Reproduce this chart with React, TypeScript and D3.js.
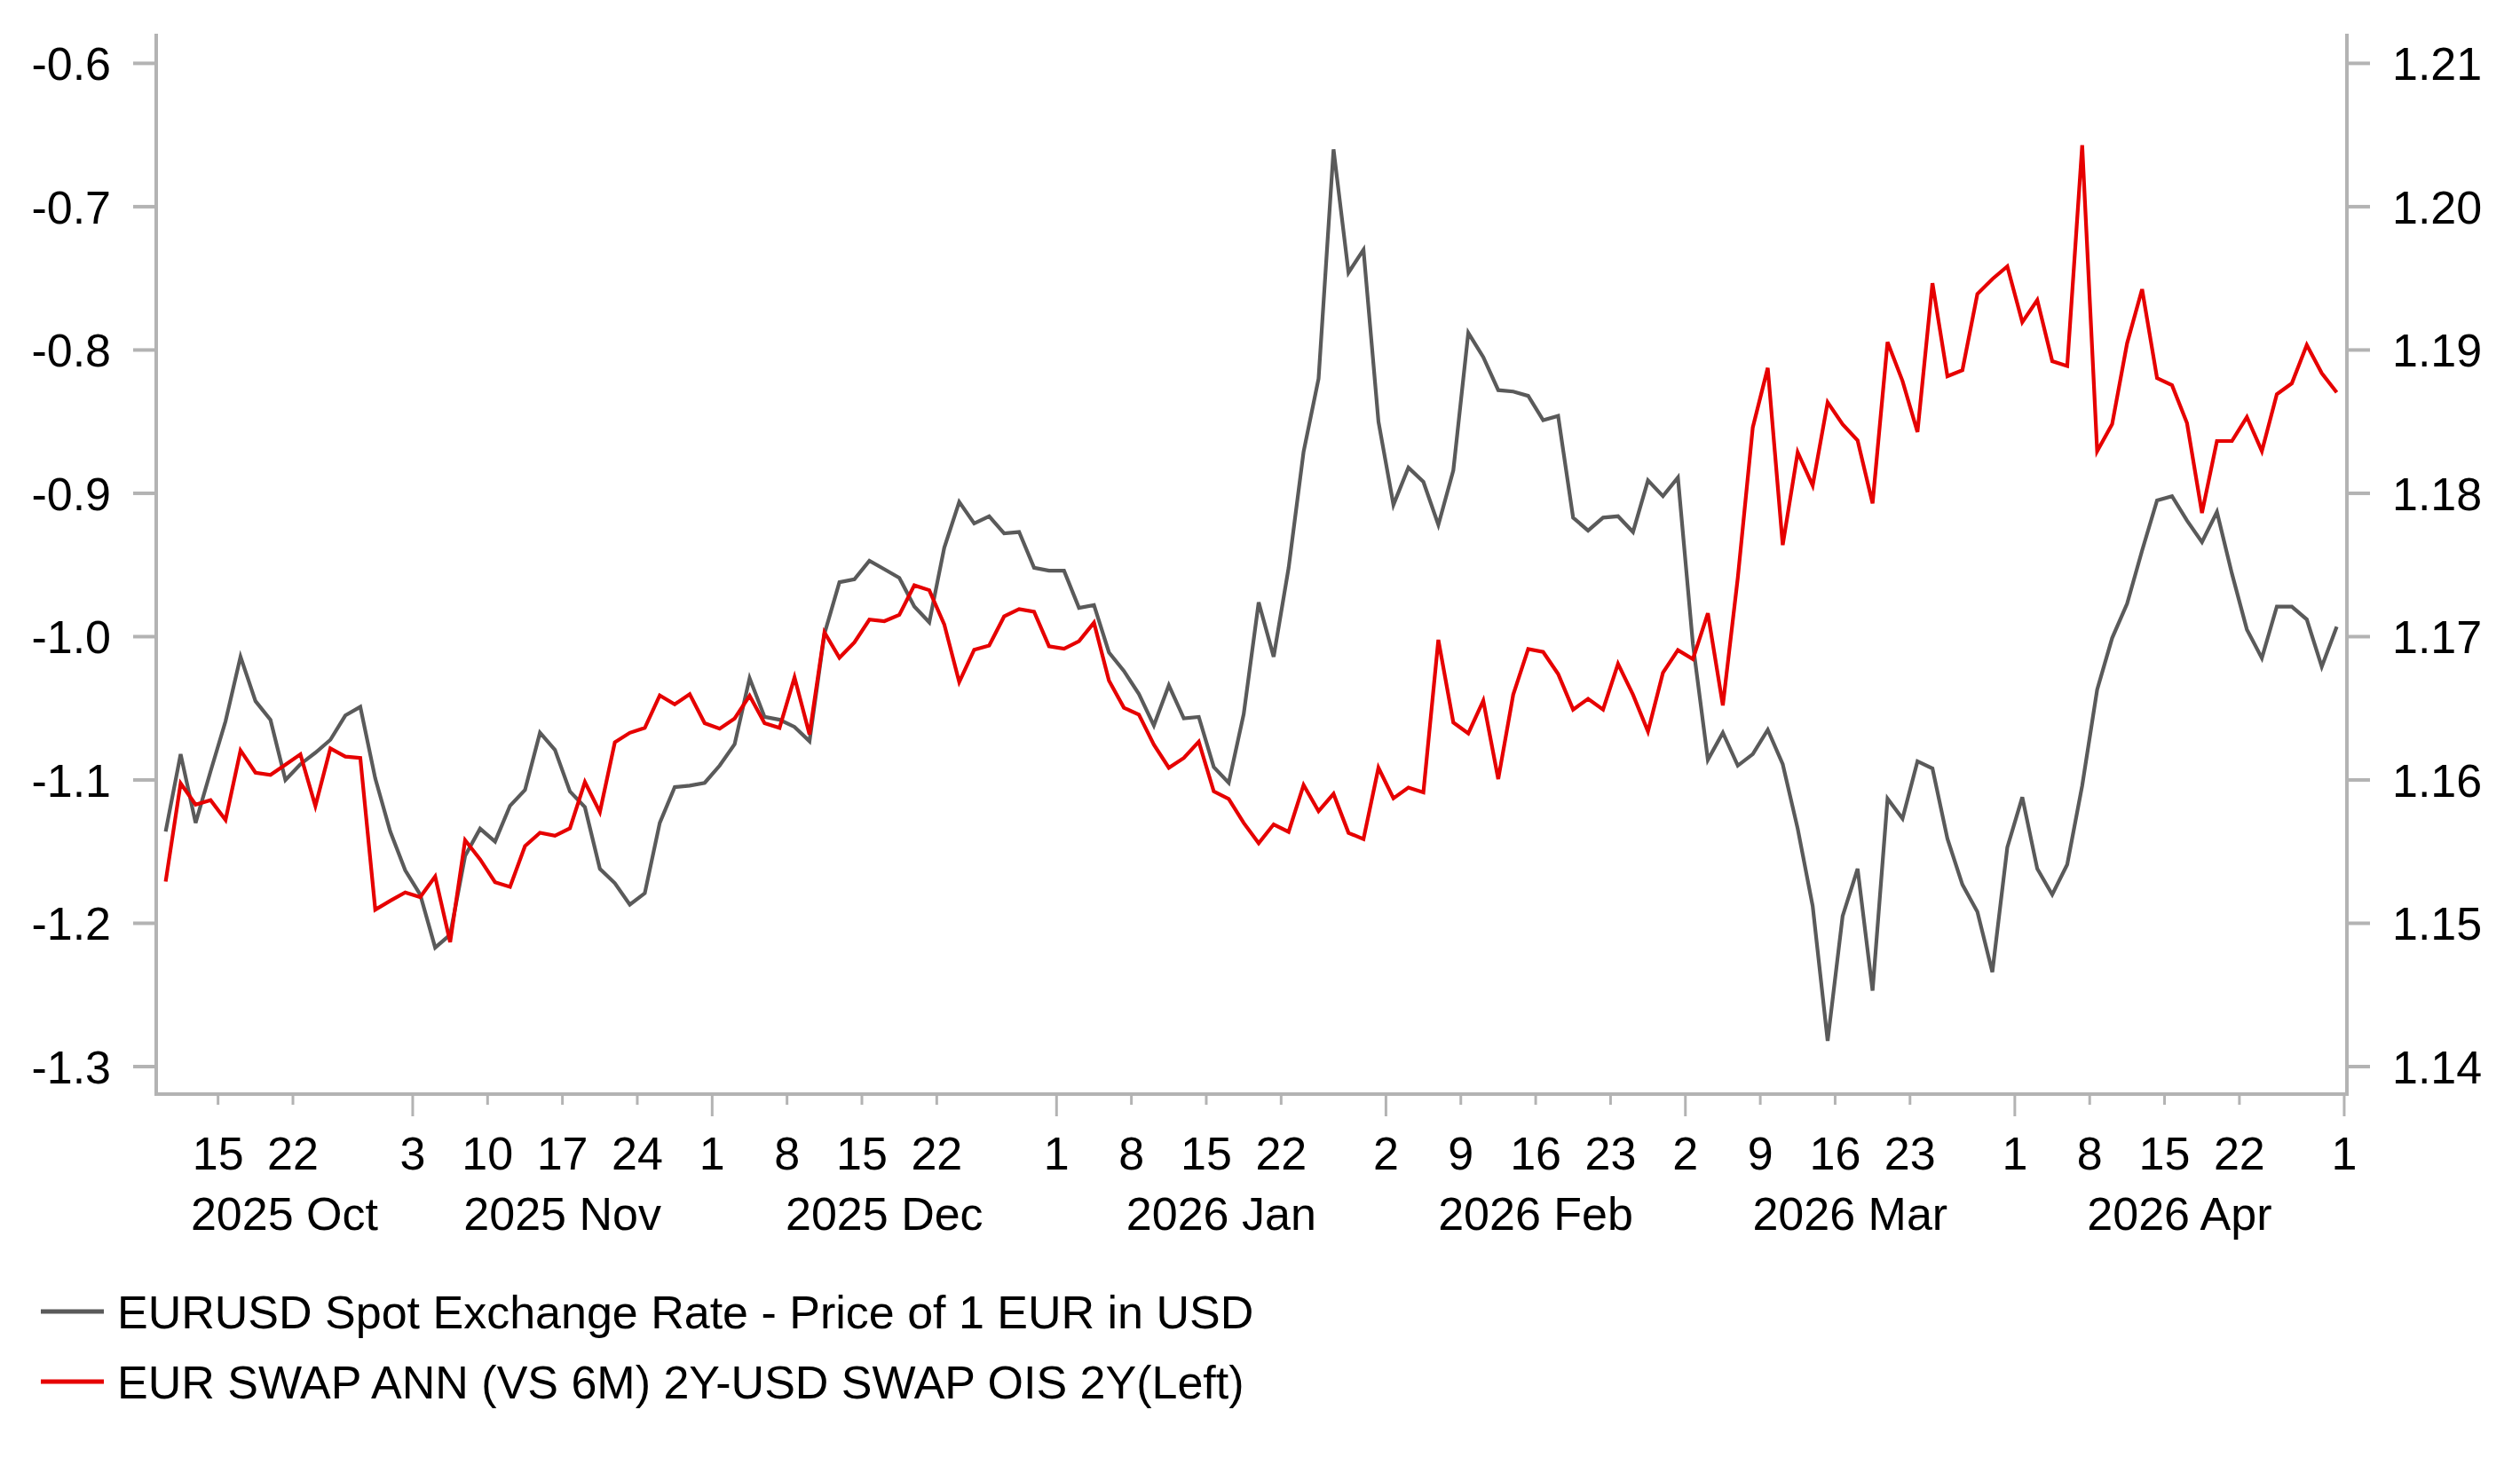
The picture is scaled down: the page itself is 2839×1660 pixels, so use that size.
import React from "react";
import * as d3 from "d3";

// ---------- data ----------
const START_DATE = "2025-10-09"; // first trading day shown
const AXIS_END_DATE = "2026-05-01"; // last tick on the time axis

// EURUSD spot (right axis), one value per weekday from START_DATE
const eurusd: number[] = [
  1.1564, 1.1618, 1.157, 1.1606, 1.1641, 1.1686, 1.1655, 1.1642, 1.16, 1.1611,
  1.1619, 1.1628, 1.1645, 1.1651, 1.1601, 1.1564, 1.1537, 1.152, 1.1483, 1.1492,
  1.1547, 1.1566, 1.1557, 1.1582, 1.1593, 1.1633, 1.1621, 1.1592, 1.1581, 1.1538,
  1.1528, 1.1513, 1.1521, 1.157, 1.1595, 1.1596, 1.1598, 1.161, 1.1625, 1.1671,
  1.1644, 1.1642, 1.1637, 1.1627, 1.1702, 1.1738, 1.174, 1.1753, 1.1747, 1.1741,
  1.1721, 1.171, 1.1762, 1.1794, 1.1779, 1.1784, 1.1772, 1.1773, 1.1748, 1.1746,
  1.1746, 1.172, 1.1722, 1.1689, 1.1676, 1.166, 1.1638, 1.1666, 1.1643, 1.1644,
  1.1609, 1.1598, 1.1646, 1.1724, 1.1686, 1.1748, 1.1829, 1.188, 1.204, 1.1954,
  1.197, 1.185, 1.1792, 1.1818, 1.1808, 1.1778, 1.1816, 1.1912, 1.1895, 1.1872,
  1.1871, 1.1868, 1.1851, 1.1854, 1.1783, 1.1774, 1.1783, 1.1784, 1.1773, 1.1809,
  1.1798, 1.1811, 1.1695, 1.1614, 1.1633, 1.161, 1.1618, 1.1635, 1.1611, 1.1566,
  1.1512, 1.1418, 1.1505, 1.1538, 1.1453, 1.1587, 1.1573, 1.1613, 1.1608, 1.1559,
  1.1527, 1.1508, 1.1466, 1.1553, 1.1588, 1.1538, 1.152, 1.1541, 1.1596, 1.1663,
  1.1699, 1.1723, 1.176, 1.1795, 1.1798, 1.1781, 1.1766, 1.1787, 1.1744, 1.1705,
  1.1685, 1.1721, 1.1721, 1.1712, 1.1679, 1.1707,
];

// EUR swap 2Y - USD OIS 2Y (left axis)
const swapSpread: number[] = [
  -1.1709, -1.1023, -1.1172, -1.1141, -1.1279, -1.0794, -1.0949, -1.0965, -1.0893, -1.0821,
  -1.1182, -1.078, -1.0837, -1.0846, -1.1905, -1.1843, -1.1785, -1.1818, -1.1673, -1.2132,
  -1.142, -1.1554, -1.1713, -1.1746, -1.1461, -1.1368, -1.1389, -1.1337, -1.1015, -1.1224,
  -1.0737, -1.0671, -1.0637, -1.041, -1.0472, -1.0401, -1.0604, -1.0642, -1.0571, -1.0412,
  -1.0604, -1.0637, -1.0284, -1.0682, -0.997, -1.0147, -1.004, -0.9881, -0.9892, -0.9848,
  -0.9642, -0.9676, -0.9914, -1.0317, -1.0091, -1.0062, -0.9859, -0.9808, -0.9826, -1.0067,
  -1.0084, -1.0032, -0.9902, -1.0307, -1.0496, -1.0544, -1.0754, -1.0915, -1.0847, -1.0733,
  -1.108, -1.1132, -1.13, -1.1441, -1.131, -1.1362, -1.1035, -1.1218, -1.1097, -1.1369,
  -1.1413, -1.0915, -1.1128, -1.1053, -1.1087, -1.0022, -1.0599, -1.0675, -1.0447, -1.0994,
  -1.0405, -1.0086, -1.0107, -1.026, -1.0509, -1.0434, -1.0509, -1.019, -1.0405, -1.0662,
  -1.0252, -1.0094, -1.0157, -0.9837, -1.048, -0.9589, -0.854, -0.8125, -0.9361, -0.8714,
  -0.8946, -0.8365, -0.8519, -0.8631, -0.907, -0.7945, -0.8216, -0.8572, -0.7534, -0.8183,
  -0.8141, -0.7609, -0.7505, -0.7417, -0.7806, -0.7651, -0.8078, -0.8112, -0.6571, -0.8706,
  -0.8518, -0.7953, -0.7576, -0.8196, -0.8246, -0.851, -0.9137, -0.8635, -0.8635, -0.8468,
  -0.8706, -0.8308, -0.8233, -0.7965, -0.8162, -0.8296,
];

const leftTicks = [-0.6, -0.7, -0.8, -0.9, -1.0, -1.1, -1.2, -1.3];
const rightTicks = [1.21, 1.2, 1.19, 1.18, 1.17, 1.16, 1.15, 1.14];
const tickDays = [1, 8, 15, 22];
const monthNames = ["Jan", "Feb", "Mar", "Apr", "May", "Jun", "Jul", "Aug", "Sep", "Oct", "Nov", "Dec"];
const seriesNames = [
  "EURUSD Spot Exchange Rate - Price of 1 EUR in USD",
  "EUR SWAP ANN (VS 6M) 2Y-USD SWAP OIS 2Y(Left)",
];

// ---------- helpers ----------
const DAY = 86400000;
function parseUTC(s: string) {
  const [y, m, d] = s.split("-").map(Number);
  return Date.UTC(y, m - 1, d);
}
function weekdayCalendar(start: string, end: string): number[] {
  const out: number[] = [];
  for (let t = parseUTC(start); t <= parseUTC(end); t += DAY) {
    const wd = new Date(t).getUTCDay();
    if (wd !== 0 && wd !== 6) out.push(t);
  }
  return out;
}

const FONT = "'Liberation Sans', Arial, Helvetica, sans-serif";
const FS = 52;
const AXIS_COLOR = "#b3b3b3";
const GRAY = "#5a5a5a";
const RED = "#e60000";

export default function App() {
  const W = 2839;
  const H = 1660;
  const left = 176;
  const right = 2644;
  const top = 38;
  const bottom = 1233;

  const cal = weekdayCalendar(START_DATE, AXIS_END_DATE);
  const idxOf = new Map<number, number>();
  cal.forEach((t, i) => idxOf.set(t, i));
  const lastIdx = cal.length - 1;

  const x = d3.scaleLinear().domain([-0.13, lastIdx + 0.18]).range([left, right]);
  const yL = d3.scaleLinear().domain([-1.3, -0.6]).range([1202, 71.4]);
  const yR = d3.scaleLinear().domain([1.14, 1.21]).range([1202, 71.4]);

  const lineL = d3
    .line<number>()
    .x((_, i) => x(i + 0.5))
    .y((d) => yL(d));
  const lineR = d3
    .line<number>()
    .x((_, i) => x(i + 0.5))
    .y((d) => yR(d));

  // ticks: first weekday on/after 1, 8, 15, 22 of each month
  type Tick = { idx: number; day: number; major: boolean };
  const ticks: Tick[] = [];
  const months: { y: number; m: number; startIdx: number }[] = [];
  const s = new Date(cal[0]);
  const e = new Date(cal[lastIdx]);
  for (let y = s.getUTCFullYear(), m = s.getUTCMonth(); y < e.getUTCFullYear() || (y === e.getUTCFullYear() && m <= e.getUTCMonth()); ) {
    tickDays.forEach((d, k) => {
      let t = Date.UTC(y, m, d);
      while ([0, 6].includes(new Date(t).getUTCDay())) t += DAY;
      const idx = idxOf.get(t);
      if (idx !== undefined) ticks.push({ idx, day: new Date(t).getUTCDate(), major: k === 0 });
    });
    let t1 = Date.UTC(y, m, 1);
    while ([0, 6].includes(new Date(t1).getUTCDay())) t1 += DAY;
    const si = idxOf.has(t1) ? (idxOf.get(t1) as number) : -0.13;
    months.push({ y, m, startIdx: si });
    m++;
    if (m > 11) {
      m = 0;
      y++;
    }
  }

  const monthLabels = months
    .map((mo, k) => {
      const a = Math.max(left, x(mo.startIdx));
      const b = k + 1 < months.length ? Math.min(right, x(months[k + 1].startIdx)) : right;
      return { label: `${mo.y} ${monthNames[mo.m]}`, cx: (a + b) / 2, width: b - a };
    })
    .filter((d) => d.width > 100);

  return (
    <svg
      width={W}
      height={H}
      style={{ position: "absolute", left: 0, top: 0, background: "#fff" }}
      fontFamily={FONT}
    >
      <rect x={0} y={0} width={W} height={H} fill="#fff" />

      {/* axes */}
      <line x1={left} x2={left} y1={top} y2={bottom} stroke={AXIS_COLOR} strokeWidth={4} />
      <line x1={right} x2={right} y1={top} y2={bottom} stroke={AXIS_COLOR} strokeWidth={4} />
      <line x1={left - 2} x2={right + 2} y1={bottom} y2={bottom} stroke={AXIS_COLOR} strokeWidth={4} />

      {/* left ticks */}
      {leftTicks.map((v) => (
        <g key={"l" + v}>
          <line x1={150} x2={left} y1={yL(v)} y2={yL(v)} stroke={AXIS_COLOR} strokeWidth={4} />
          <text x={125} y={yL(v) + 19} fontSize={FS} textAnchor="end" fill="#000">
            {v.toFixed(1)}
          </text>
        </g>
      ))}

      {/* right ticks */}
      {rightTicks.map((v) => (
        <g key={"r" + v}>
          <line x1={right} x2={2670} y1={yR(v)} y2={yR(v)} stroke={AXIS_COLOR} strokeWidth={4} />
          <text x={2695} y={yR(v) + 19} fontSize={FS} textAnchor="start" fill="#000">
            {v.toFixed(2)}
          </text>
        </g>
      ))}

      {/* x ticks */}
      {ticks.map((t) => (
        <g key={"x" + t.idx}>
          <line
            x1={x(t.idx)}
            x2={x(t.idx)}
            y1={bottom}
            y2={t.major ? 1258 : 1245}
            stroke={AXIS_COLOR}
            strokeWidth={3}
          />
          <text x={x(t.idx)} y={1318} fontSize={FS} textAnchor="middle" fill="#000">
            {t.day}
          </text>
        </g>
      ))}
      {monthLabels.map((m) => (
        <text key={m.label} x={m.cx} y={1386} fontSize={FS} textAnchor="middle" fill="#000">
          {m.label}
        </text>
      ))}

      {/* series */}
      <path d={lineR(eurusd) || ""} fill="none" stroke={GRAY} strokeWidth={4.2} strokeLinejoin="miter" />
      <path d={lineL(swapSpread) || ""} fill="none" stroke={RED} strokeWidth={4.2} strokeLinejoin="miter" />

      {/* legend */}
      <line x1={46} x2={117} y1={1478} y2={1478} stroke={GRAY} strokeWidth={5} />
      <text x={132} y={1497} fontSize={FS} fill="#000">
        {seriesNames[0]}
      </text>
      <line x1={46} x2={117} y1={1557} y2={1557} stroke={RED} strokeWidth={5} />
      <text x={132} y={1576} fontSize={FS} fill="#000">
        {seriesNames[1]}
      </text>
    </svg>
  );
}
